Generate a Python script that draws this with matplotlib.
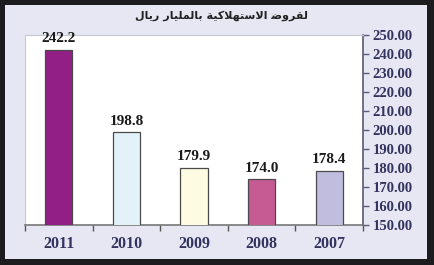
import matplotlib
matplotlib.use("Agg")
import matplotlib.pyplot as plt
from matplotlib.patches import Rectangle

# data
years = ["2011", "2010", "2009", "2008", "2007"]
values = [242.2, 198.8, 179.9, 174.0, 178.4]
bar_colors = ["#921f86", "#e3f1f9", "#fdfbe2", "#c65b93", "#c1bddf"]
ytick_vals = [150, 160, 170, 180, 190, 200, 210, 220, 230, 240, 250]
title_ar = "لقروض الاستهلاكية بالمليار ريال"

# minimal arabic shaping (matplotlib has no bidi / joining)
FORMS = {
    "ا": ("\uFE8D", "\uFE8E", None, None),
    "ب": ("\uFE8F", "\uFE90", "\uFE91", "\uFE92"),
    "ة": ("\uFE93", "\uFE94", None, None),
    "ت": ("\uFE95", "\uFE96", "\uFE97", "\uFE98"),
    "ر": ("\uFEAD", "\uFEAE", None, None),
    "س": ("\uFEB1", "\uFEB2", "\uFEB3", "\uFEB4"),
    "ض": ("\uFEBF", "\uFEC0", "\uFEC1", "\uFEC2"),
    "ق": ("\uFED5", "\uFED6", "\uFED7", "\uFED8"),
    "ك": ("\uFED9", "\uFEDA", "\uFEDB", "\uFEDC"),
    "ل": ("\uFEDD", "\uFEDE", "\uFEDF", "\uFEE0"),
    "م": ("\uFEE1", "\uFEE2", "\uFEE3", "\uFEE4"),
    "ه": ("\uFEE9", "\uFEEA", "\uFEEB", "\uFEEC"),
    "و": ("\uFEED", "\uFEEE", None, None),
    "ي": ("\uFEF1", "\uFEF2", "\uFEF3", "\uFEF4"),
    "لا": ("\uFEFB", "\uFEFC", None, None),
}


def shape(text):
    # merge lam-alef
    units = []
    i = 0
    while i < len(text):
        if text[i] == "ل" and i + 1 < len(text) and text[i + 1] == "ا":
            units.append("لا")
            i += 2
        else:
            units.append(text[i])
            i += 1
    out = []
    for k, u in enumerate(units):
        if u not in FORMS:
            out.append(u)
            continue
        prev = units[k - 1] if k > 0 else None
        nxt = units[k + 1] if k + 1 < len(units) else None
        join_prev = prev in FORMS and FORMS[prev][2] is not None
        join_next = FORMS[u][2] is not None and nxt in FORMS
        iso, fin, ini, med = FORMS[u]
        if join_prev and join_next:
            out.append(med)
        elif join_prev:
            out.append(fin)
        elif join_next:
            out.append(ini)
        else:
            out.append(iso)
    return "".join(out)[::-1]


W, H = 435, 265
fig = plt.figure(figsize=(W / 100, H / 100), dpi=100)
fig.patch.set_facecolor("#1c1c1e")
fig.add_artist(Rectangle((5 / W, 6 / H), 422 / W, 254 / H, transform=fig.transFigure,
                         facecolor="#e7e7f3", edgecolor="none", zorder=0))

ax = fig.add_axes([25 / W, 40 / H, 338 / W, 190 / H])
ax.set_facecolor("white")
x = range(len(years))
bars = ax.bar(x, values, width=0.4, color=bar_colors, edgecolor="#4a4a4a", linewidth=0.9, zorder=3)

ax.set_xlim(-0.5, len(years) - 0.5)
ax.set_ylim(150, 250)

serif = "Liberation Serif"
navy = "#33335f"
for xi, v in zip(x, values):
    ax.text(xi, v + 2.5, f"{v:.1f}", ha="center", va="bottom", fontsize=11,
            fontweight="bold", family=serif, color="#1a1a1a")

ax.yaxis.tick_right()
ax.set_yticks(ytick_vals)
ax.set_yticklabels([f"{v:.2f}" for v in ytick_vals], family=serif, fontweight="bold",
                   fontsize=10.5, color=navy)
ax.tick_params(axis="y", direction="out", length=4, width=1, color="#5a5a7a", pad=3)

ax.set_xticks(list(x))
ax.set_xticklabels(years, family=serif, fontweight="bold", fontsize=11.5, color=navy)
ax.tick_params(axis="x", which="major", length=0, pad=8)
ax.set_xticks([i - 0.5 for i in range(len(years) + 1)], minor=True)
ax.tick_params(axis="x", which="minor", direction="out", length=4, width=1, color="#555555")

for side in ["top", "left"]:
    ax.spines[side].set_color("#c8c8d4")
    ax.spines[side].set_linewidth(0.8)
ax.spines["right"].set_color("#5a5a7a")
ax.spines["right"].set_linewidth(1.2)
ax.spines["bottom"].set_color("#777777")
ax.spines["bottom"].set_linewidth(1.2)

fig.text(222 / W, 1 - 16 / H, shape(title_ar), ha="center", va="center", fontsize=8,
         fontweight="bold", family="DejaVu Sans", color="#222222")

fig.savefig("out.png", dpi=100, facecolor=fig.get_facecolor())
